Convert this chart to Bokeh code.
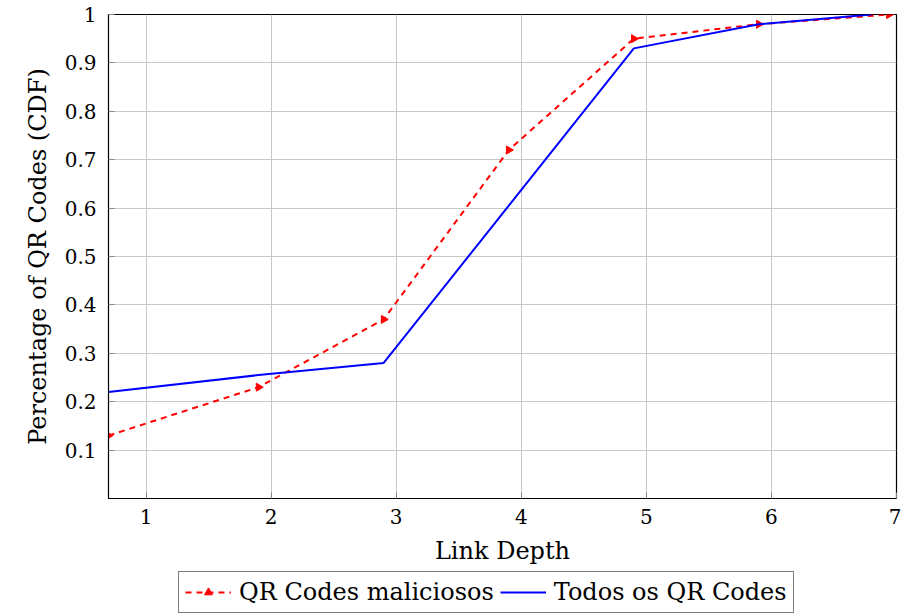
import math
from bokeh.plotting import figure
from bokeh.layouts import column
from bokeh.models import Legend, LegendItem, FixedTicker
from bokeh.embed import file_html
from bokeh.resources import INLINE

# Data
mal_x = [0.7, 1.9, 2.9, 3.9, 4.9, 5.9, 6.94]
mal_y = [0.13, 0.23, 0.37, 0.72, 0.95, 0.98, 1.0]
all_x = [0.7, 1.9, 2.9, 4.9, 5.9, 6.8]
all_y = [0.22, 0.255, 0.28, 0.93, 0.98, 1.0]
x_ticks = [1, 2, 3, 4, 5, 6, 7]
y_ticks = [0.1, 0.2, 0.3, 0.4, 0.5, 0.6, 0.7, 0.8, 0.9, 1.0]
y_tick_labels = {0.1: "0.1", 0.2: "0.2", 0.3: "0.3", 0.4: "0.4", 0.5: "0.5",
                 0.6: "0.6", 0.7: "0.7", 0.8: "0.8", 0.9: "0.9", 1.0: "1"}
labels = ["QR Codes maliciosos", "Todos os QR Codes"]
# off-screen sample used only to draw the legend swatches
swatch_x = [-10, -9]
swatch_y = [-10, -10]

FONT = "DejaVu Serif"

p = figure(width=901, height=568, x_range=(0.7, 7), y_range=(0, 1),
           output_backend="svg", toolbar_location=None,
           min_border_left=108, min_border_right=5, min_border_top=14,
           min_border_bottom=70)

p.background_fill_color = "white"
p.outline_line_color = "black"
p.outline_line_width = 1.2

for ax in (p.xaxis[0], p.yaxis[0]):
    ax.major_tick_in = 6
    ax.major_tick_out = 0
    ax.minor_tick_in = 0
    ax.minor_tick_out = 0
    ax.axis_line_color = "black"
    ax.major_tick_line_color = "#888888"
    ax.major_label_text_font = FONT
    ax.major_label_text_font_size = "20px"
    ax.major_label_text_color = "black"
    ax.axis_label_text_font = FONT
    ax.axis_label_text_font_size = "24px"
    ax.axis_label_text_font_style = "normal"
    ax.axis_label_text_color = "black"

p.xaxis.ticker = FixedTicker(ticks=x_ticks)
p.yaxis.ticker = FixedTicker(ticks=y_ticks)
p.yaxis.major_label_overrides = y_tick_labels
p.xaxis.axis_label = "Link Depth"
p.yaxis.axis_label = "Percentage of QR Codes (CDF)"
p.xaxis.major_label_standoff = 10
p.yaxis.major_label_standoff = 12
p.xaxis.axis_label_standoff = 10
p.yaxis.axis_label_standoff = 10

p.xgrid.ticker = FixedTicker(ticks=x_ticks)
p.ygrid.ticker = FixedTicker(ticks=y_ticks)
p.grid.grid_line_color = "#c8c8c8"
p.grid.grid_line_width = 1

mal_line = dict(line_color="red", line_width=2, line_dash="6 5")
mal_mark = dict(marker="triangle", angle=-math.pi / 2, size=8,
                fill_color="red", line_color="red")
all_line = dict(line_color="blue", line_width=2)

p.line(mal_x, mal_y, **mal_line)
p.scatter(mal_x, mal_y, **mal_mark)
p.line(all_x, all_y, **all_line)

# Legend strip below the chart
q = figure(width=901, height=47, x_range=(0, 1), y_range=(0, 1),
           output_backend="svg", toolbar_location=None,
           min_border_left=0, min_border_right=0, min_border_top=0,
           min_border_bottom=0)
q.axis.visible = False
q.grid.visible = False
q.outline_line_color = None
ql1 = q.line(swatch_x, swatch_y, **mal_line)
qs1 = q.scatter(swatch_x, swatch_y, **mal_mark)
ql2 = q.line(swatch_x, swatch_y, **all_line)

legend = Legend(items=[
    LegendItem(label=labels[0], renderers=[ql1, qs1]),
    LegendItem(label=labels[1], renderers=[ql2]),
], orientation="horizontal", location=(70, 2))
legend.label_text_font = FONT
legend.label_text_font_size = "24px"
legend.label_text_color = "black"
legend.border_line_color = "black"
legend.border_line_width = 1
legend.glyph_width = 46
legend.label_standoff = 8
legend.spacing = 6
legend.padding = 6
legend.margin = 0
legend.background_fill_alpha = 1
q.add_layout(legend, "center")

layout = column(p, q, spacing=0)
open("out.html", "w").write(file_html(layout, INLINE))
